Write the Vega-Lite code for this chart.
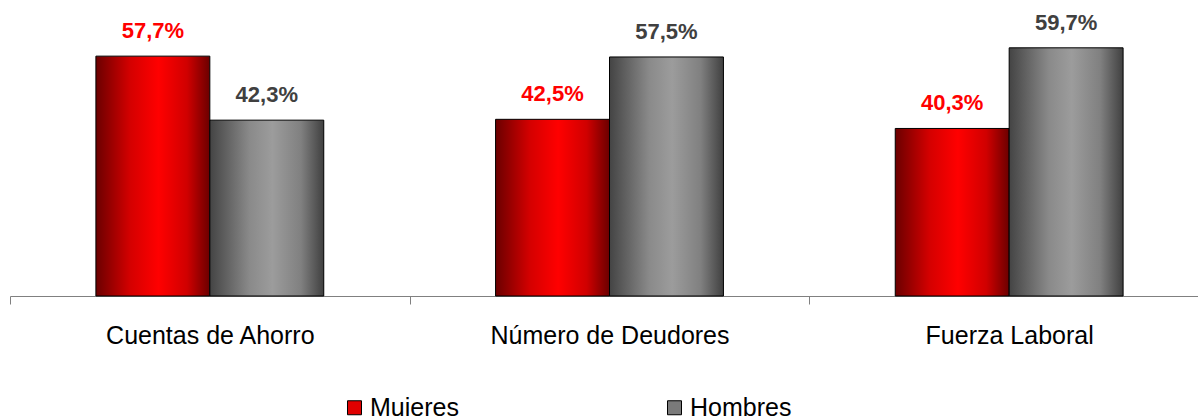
{
  "$schema": "https://vega.github.io/schema/vega-lite/v6.json",
  "autosize": {"type": "none"},
  "padding": {"left": 10, "top": 5, "right": 0, "bottom": 120},
  "width": 1188,
  "height": 291,
  "background": "white",
  "config": {"view": {"stroke": null}, "font": "Liberation Sans"},
  "data": {"values": [
    {"categoria": "Cuentas de Ahorro", "sexo": "Mujeres", "valor": 57.7, "etiqueta": "57,7%"},
    {"categoria": "Cuentas de Ahorro", "sexo": "Hombres", "valor": 42.3, "etiqueta": "42,3%"},
    {"categoria": "Número de Deudores", "sexo": "Mujeres", "valor": 42.5, "etiqueta": "42,5%"},
    {"categoria": "Número de Deudores", "sexo": "Hombres", "valor": 57.5, "etiqueta": "57,5%"},
    {"categoria": "Fuerza Laboral", "sexo": "Mujeres", "valor": 40.3, "etiqueta": "40,3%"},
    {"categoria": "Fuerza Laboral", "sexo": "Hombres", "valor": 59.7, "etiqueta": "59,7%"}
  ]},
  "encoding": {
    "x": {"field": "categoria", "type": "nominal", "sort": null,
          "scale": {"paddingInner": 0, "paddingOuter": 0, "range": [0, 1199]},
          "axis": {"title": null, "labelAngle": 0, "labelFontSize": 25, "labelColor": "#000000", "labelLimit": 400,
                   "labelPadding": 19, "tickSize": 8, "tickColor": "#808080", "domainColor": "#808080",
                   "tickBand": "extent", "grid": false}},
    "xOffset": {"field": "sexo", "type": "nominal", "sort": ["Mujeres", "Hombres"],
                "scale": {"paddingInner": 0, "paddingOuter": 0.754}},
    "y": {"field": "valor", "type": "quantitative", "scale": {"domain": [0, 70]}, "axis": null}
  },
  "layer": [
    {
      "mark": {"type": "bar", "opacity": 0},
      "encoding": {
        "fill": {"field": "sexo", "type": "nominal", "sort": ["Mujeres", "Hombres"],
          "scale": {"domain": ["Mujeres", "Hombres"], "range": ["#e00000", "#7a7a7a"]},
          "legend": {"title": null, "orient": "none", "legendX": 332, "legendY": 390, "direction": "horizontal",
                     "symbolType": "square", "symbolSize": 196, "symbolOpacity": 1, "symbolStrokeColor": "#000000", "symbolStrokeWidth": 1,
                     "labelFontSize": 25, "labelColor": "#000000", "labelLimit": 300, "columnPadding": 203, "labelOffset": 3}}
      }
    },
    {
      "mark": {"type": "bar", "stroke": "#000000", "strokeWidth": 1},
      "encoding": {
        "fill": {"condition": {"test": "datum.sexo === 'Mujeres'", "value": {"gradient": "linear", "x1": 0, "y1": 0, "x2": 1, "y2": 0, "stops": [
              {"offset": 0, "color": "#6b0000"}, {"offset": 0.3, "color": "#d40000"}, {"offset": 0.55, "color": "#ff0000"}, {"offset": 0.8, "color": "#d00000"}, {"offset": 1, "color": "#6b0000"}]}},
          "value": {"gradient": "linear", "x1": 0, "y1": 0, "x2": 1, "y2": 0, "stops": [
              {"offset": 0, "color": "#444444"}, {"offset": 0.35, "color": "#8a8a8a"}, {"offset": 0.55, "color": "#9c9c9c"}, {"offset": 0.8, "color": "#808080"}, {"offset": 1, "color": "#404040"}]}}
      }
    },
    {
      "mark": {"type": "text", "baseline": "bottom", "dy": -13, "fontSize": 22, "fontWeight": "bold"},
      "encoding": {
        "text": {"field": "etiqueta"},
        "color": {"condition": {"test": "datum.sexo === 'Mujeres'", "value": "#ff0000"}, "value": "#404040"}
      }
    }
  ]
}
